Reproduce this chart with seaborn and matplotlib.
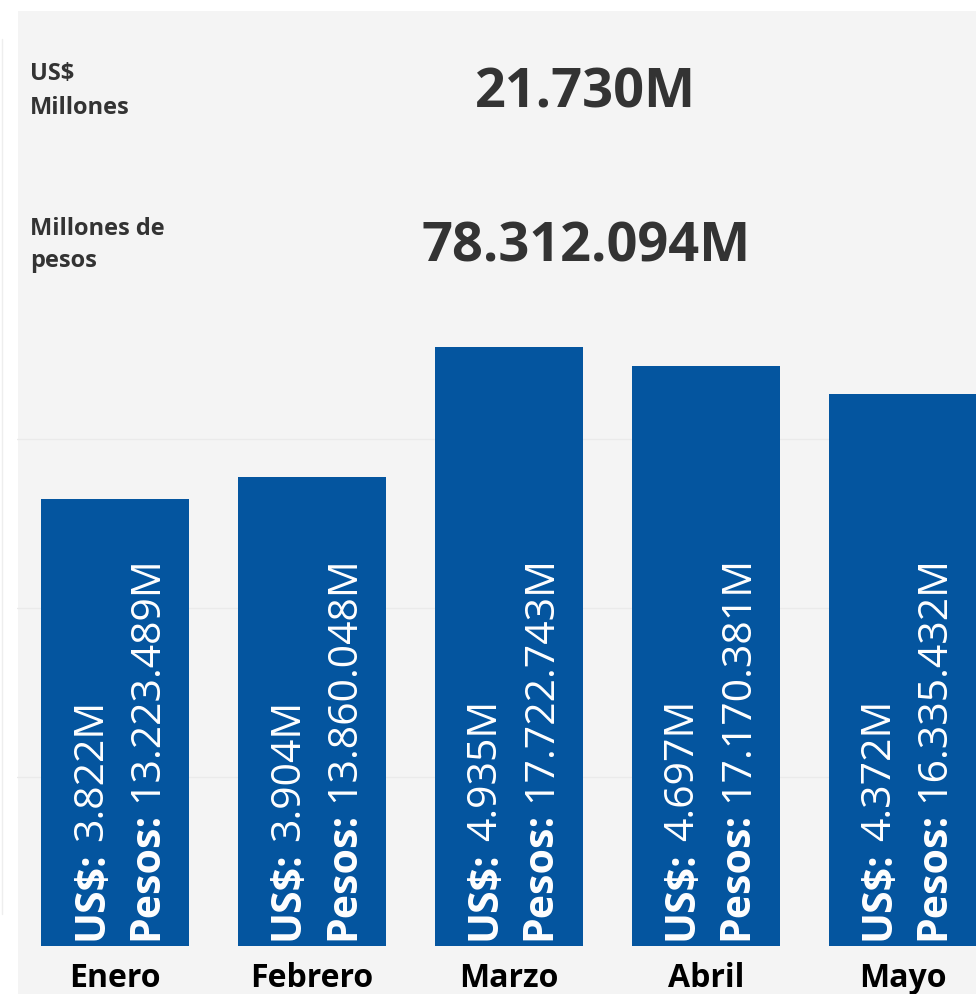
import matplotlib
matplotlib.use("Agg")
import matplotlib.pyplot as plt
import matplotlib.transforms as mtransforms
from matplotlib.patches import Rectangle
import seaborn as sns
import pandas as pd

# ---- data ----
months = ["Enero", "Febrero", "Marzo", "Abril", "Mayo"]
usd_values = [3822, 3904, 4935, 4697, 4372]
usd_labels = ["3.822M", "3.904M", "4.935M", "4.697M", "4.372M"]
pesos_values = [13223489, 13860048, 17722743, 17170381, 16335432]
pesos_labels = ["13.223.489M", "13.860.048M", "17.722.743M", "17.170.381M", "16.335.432M"]
kpi_usd = "21.730M"
kpi_pesos = "78.312.094M"

df = pd.DataFrame({"mes": months, "pesos": pesos_values})

sns.set_theme(style="white")
plt.rcParams["font.family"] = ["Open Sans", "DejaVu Sans"]

W, H, DPI = 976, 995, 100
fig = plt.figure(figsize=(W / DPI, H / DPI), dpi=DPI)
fig.patch.set_facecolor("white")

BG = "#f4f4f4"
BLUE = "#04559f"
DARK = "#333333"

# grey panel
fig.patches.append(Rectangle((18 / W, 0), 1 - 18 / W, (H - 12) / H,
                             transform=fig.transFigure, facecolor=BG,
                             edgecolor="none", zorder=-10))
fig.lines.append(plt.Line2D([2 / W, 2 / W], [0.08, 1 - 40 / H], transform=fig.transFigure,
                            color="#eeeeee", lw=1))

def fx(px):
    return px / W

def fy(py):
    return 1 - py / H

ax_left, ax_right, ax_top, ax_bottom = 16.6, 976, 330, 947
ax = fig.add_axes([fx(ax_left), fy(ax_bottom), fx(ax_right - ax_left), (ax_bottom - ax_top) / H])
ax.set_facecolor(BG)
ax.patch.set_alpha(0)

pitch = 196.9
sns.barplot(data=df, x="mes", y="pesos", color=BLUE, saturation=1, width=0.752,
            linewidth=0, edgecolor="none", ax=ax, zorder=3)
ax.set_xlim(-0.5, -0.5 + (ax_right - ax_left) / pitch)
ax.set_ylim(0, (ax_bottom - ax_top) / 447 * pesos_values[0])
ax.set_yticks([5e6, 10e6, 15e6])
ax.yaxis.grid(True, color="#eaeaea", lw=1, zorder=0)
ax.set_axisbelow(True)
ax.tick_params(axis="y", left=False, labelleft=False)
ax.tick_params(axis="x", bottom=False, pad=4.5)
ax.set_xlabel("")
ax.set_ylabel("")
for s in ax.spines.values():
    s.set_visible(False)
for lab in ax.get_xticklabels():
    lab.set_fontsize(23)
    lab.set_fontweight("bold")
    lab.set_color("black")

# in-bar rotated labels
fig.canvas.draw()
renderer = fig.canvas.get_renderer()
LBL = 29.5
for i in range(len(months)):
    for dx, head, val in ((-13, "US$:", usd_labels[i]), (42, "Pesos:", pesos_labels[i])):
        tr = mtransforms.offset_copy(ax.transData, fig=fig, x=dx, y=7, units="dots")
        t = ax.text(i, 0, head, transform=tr, rotation=90, rotation_mode="anchor",
                    ha="left", va="baseline", color="white", fontsize=LBL,
                    fontweight="bold", zorder=5)
        bb = t.get_window_extent(renderer=renderer)
        tr2 = mtransforms.offset_copy(ax.transData, fig=fig, x=dx, y=7 + bb.height + 10, units="dots")
        ax.text(i, 0, val, transform=tr2, rotation=90, rotation_mode="anchor",
                ha="left", va="baseline", color="white", fontsize=LBL,
                fontweight="normal", zorder=5)

# KPI header
for txt, py in (("US$", 80), ("Millones", 114), ("Millones de", 235), ("pesos", 267)):
    fig.text(fx(30), fy(py), txt, ha="left", va="baseline", fontsize=17,
             fontweight="bold", color=DARK)
fig.text(fx(586), fy(108), kpi_usd, ha="center", va="baseline", fontsize=39,
         fontweight="bold", color=DARK)
fig.text(fx(586), fy(262), kpi_pesos, ha="center", va="baseline", fontsize=39,
         fontweight="bold", color=DARK)

fig.savefig("out.png", dpi=DPI, facecolor=fig.get_facecolor())
